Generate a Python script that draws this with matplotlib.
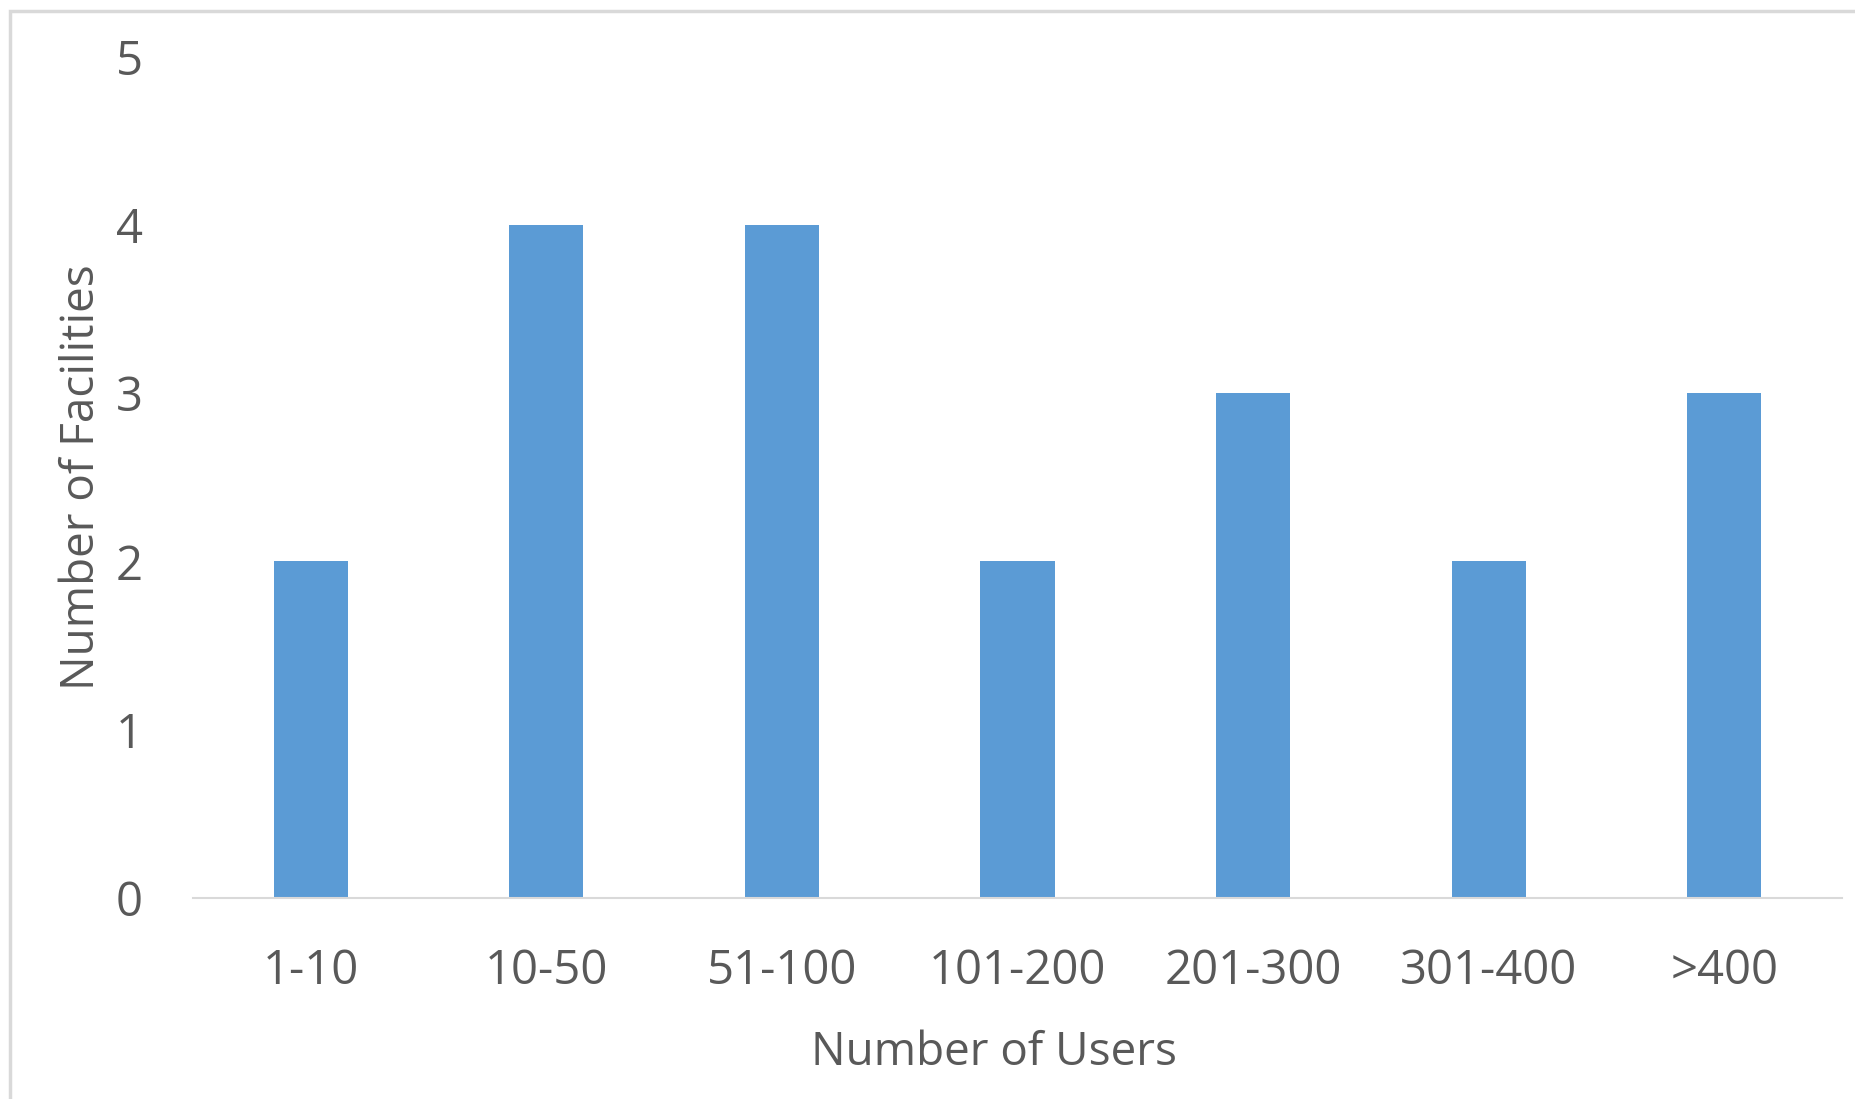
import matplotlib
matplotlib.use("Agg")
import matplotlib.pyplot as plt
from matplotlib.patches import Rectangle

# Facilities grouped by number of users
user_ranges = ["1-10", "10-50", "51-100", "101-200", "201-300", "301-400", ">400"]
facility_counts = [2, 4, 4, 2, 3, 2, 3]

text_grey = "#595959"
bar_blue = "#5B9BD5"
line_grey = "#D9D9D9"

plt.rcParams["font.family"] = ["Open Sans", "DejaVu Sans"]

fig = plt.figure(figsize=(18.56, 10.99), dpi=100)
ax = fig.add_axes([193 / 1856, 1 - 897.7 / 1099, 1649 / 1856, 841 / 1099])

ax.bar(range(len(user_ranges)), facility_counts, width=0.315, color=bar_blue)

ax.set_xlim(-0.5, len(user_ranges) - 0.5)
ax.set_ylim(0, 5)
ax.set_yticks(range(6))
ax.set_xticks(range(len(user_ranges)))
ax.set_xticklabels(user_ranges)

for side in ["top", "right", "left"]:
    ax.spines[side].set_visible(False)
ax.spines["bottom"].set_color(line_grey)
ax.spines["bottom"].set_linewidth(1.5)

ax.tick_params(axis="both", length=0, labelsize=34, labelcolor=text_grey)
ax.tick_params(axis="y", pad=36)
ax.tick_params(axis="x", pad=36)

ax.set_xlabel("Number of Users", fontsize=33, color=text_grey)
ax.xaxis.set_label_coords(0.486, -0.157)
ax.set_ylabel("Number of Facilities", fontsize=33, color=text_grey, labelpad=8)

# chart area outline
fig.patches.append(Rectangle((10 / 1856, -0.1), 1.2, 1.1 - 11 / 1099,
                             transform=fig.transFigure, fill=False,
                             edgecolor=line_grey, linewidth=2.5))

fig.savefig("out.png", dpi=100)
